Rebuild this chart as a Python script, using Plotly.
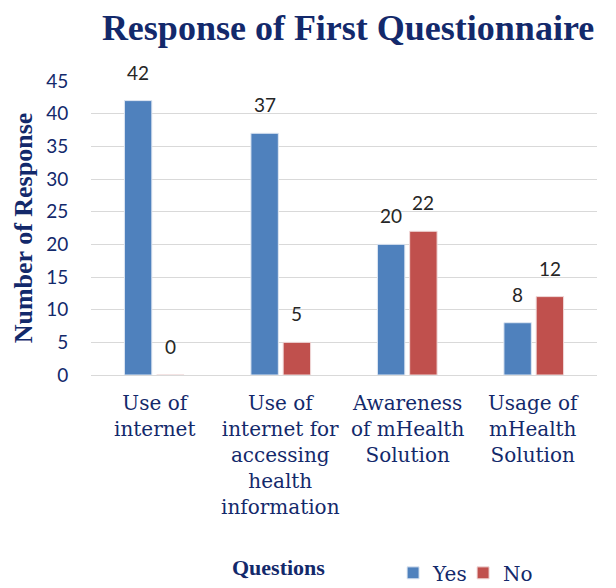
import plotly.graph_objects as go

# Chart data
categories = [
    "Use of<br>internet",
    "Use of<br>internet for<br>accessing<br>health<br>information",
    "Awareness<br>of mHealth<br>Solution",
    "Usage of<br>mHealth<br>Solution",
]
yes_values = [42, 37, 20, 8]
no_values = [0, 5, 22, 12]
y_ticks = [0, 5, 10, 15, 20, 25, 30, 35, 40, 45]

NAVY = "#13296b"
SERIF = "Times New Roman, Liberation Serif, serif"
SERIF_REG = "DejaVu Serif"
BLUE = "#4f81bd"
RED = "#c0504d"

fig = go.Figure()
fig.add_trace(go.Bar(x=categories, y=yes_values, name="Yes",
                     marker=dict(color=BLUE, line=dict(color="#dfe7f2", width=1))))
fig.add_trace(go.Bar(x=categories, y=no_values, name="No",
                     marker=dict(color=RED, line=dict(color="#f0dada", width=1))))

# value labels above the bars
for vals, shift in ((yes_values, -16), (no_values, 16)):
    for cat, v in zip(categories, vals):
        fig.add_annotation(x=cat, y=v, text=str(v), showarrow=False,
                           xshift=shift, yshift=15, yanchor="bottom",
                           font=dict(family="Lato", size=19, color="#262626"))

# category labels (serif, drawn as annotations under each category)
for cat in categories:
    fig.add_annotation(x=cat, xref="x", y=0, yref="y domain", text=cat,
                       showarrow=False, xanchor="center", yanchor="top",
                       yshift=-14, align="center",
                       font=dict(family=SERIF_REG, size=20, color=NAVY))

# x-axis title as annotation (sits left of centre in the original)
fig.add_annotation(xref="x domain", yref="y domain",
                   x=(278 - 91) / 506, y=(375 - 567) / 294,
                   text="<b>Questions</b>", showarrow=False,
                   xanchor="center", yanchor="middle",
                   font=dict(family=SERIF, size=22, color=NAVY))

fig.update_layout(
    width=616, height=588,
    font=dict(family=SERIF, size=22, color=NAVY),
    margin=dict(l=91, r=19, t=81, b=213, autoexpand=False),
    paper_bgcolor="white", plot_bgcolor="white",
    title=dict(text="<b>Response of First Questionnaire</b>",
               x=0.565, xanchor="center", y=0.954, yanchor="middle",
               font=dict(family=SERIF, size=36, color=NAVY)),
    barmode="group", bargap=0.49, bargroupgap=0.15,
    showlegend=True,
    legend=dict(orientation="h", x=0.597, xanchor="left", y=-0.673, yanchor="middle",
                font=dict(family=SERIF_REG, size=20, color=NAVY),
                itemwidth=30, entrywidth=25, bgcolor="rgba(0,0,0,0)"),
    yaxis=dict(range=[0, 45], tickvals=y_ticks, showgrid=True, automargin=False,
               gridcolor="#d9d9d9", gridwidth=1, zeroline=True,
               zerolinecolor="#d9d9d9", zerolinewidth=1,
               ticks="outside", ticklen=18, tickcolor="rgba(0,0,0,0)",
               tickfont=dict(family="Lato", size=19, color=NAVY),
               title=dict(text="<b>Number of Response</b>", standoff=6,
                          font=dict(family=SERIF, size=26, color=NAVY))),
    xaxis=dict(showgrid=False, showline=False, showticklabels=False,
               automargin=False),
)

# drop the default page margin so the figure sits at the window's corner
fig.write_html("out.html", config={"displayModeBar": False},
               post_script="document.body.style.margin='0';")
